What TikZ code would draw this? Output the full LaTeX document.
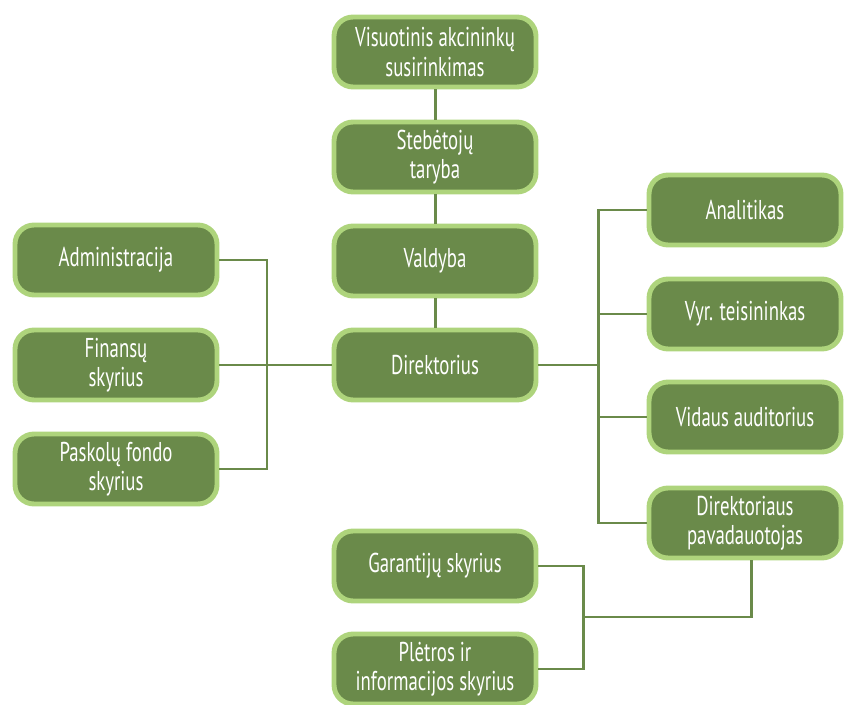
\documentclass[tikz,border=0pt]{standalone}
\usepackage{fontspec}
\setmainfont{PT Sans}[FakeStretch=0.69]
\usetikzlibrary{positioning}
\definecolor{boxgreen}{HTML}{6A8A4A}
\definecolor{rimgreen}{HTML}{AED47C}
\tikzset{%
  unit/.style  = { fill = boxgreen, draw = rimgreen, line width = 2.8pt, rounded corners = 0.38cm,
                   text = white, align = center, font = \fontsize{15.5}{16.6}\selectfont,
                   minimum width = 4.04cm, minimum height = 1.40cm, inner sep = 0pt },
  side/.style  = { unit, minimum width = 3.84cm },
  link/.style  = { draw = boxgreen, line width = 1.7pt }
}
\begin{document}
\begin{tikzpicture}[x=0.02cm,y=-0.02cm]
\clip (0,0) rectangle (844,705);
% centre column
\node(VAS) [unit] at (435,52)  {Visuotinis akcininkų\\susirinkimas};
\node(ST)  [unit] at (435,157) {Stebėtojų\\taryba};
\node(V)   [unit] at (435,261) {Valdyba};
\node(D)   [unit] at (435,365) {Direktorius};
% left column
\node(A)   [unit] at (116,260) {Administracija};
\node(F)   [unit] at (116,365) {Finansų\\skyrius};
\node(P)   [unit] at (116,469) {Paskolų fondo\\skyrius};
% right column
\node(AN)  [side] at (745,210) {Analitikas};
\node(VT)  [side] at (745,314) {Vyr. teisininkas};
\node(VA)  [side] at (745,417) {Vidaus auditorius};
\node(DP)  [side] at (745,523) {Direktoriaus\\pavadauotojas};
% bottom
\node(G)   [unit] at (435,566) {Garantijų skyrius};
\node(PI)  [unit] at (435,669) {Plėtros ir\\informacijos skyrius};

\coordinate (lbus) at (267,365);
\coordinate (rbus) at (598,365);
\coordinate (bbus) at (583,617);

\begin{scope}[on background layer/.try]
\draw[link] (VAS) -- (ST) -- (V) -- (D);
\draw[link] (F) -- (D);
\draw[link] (A.east) -| (lbus) |- (P.east);
\draw[link] (D) -- (rbus);
\draw[link] (AN.west) -| (rbus) |- (DP.west);
\draw[link] (VT.west) -| (rbus);
\draw[link] (VA.west) -| (rbus);
\draw[link] (G.east) -| (bbus) |- (PI.east);
\draw[link] (bbus) -| (DP.south -| 751,0);
\end{scope}
\end{tikzpicture}
\end{document}
